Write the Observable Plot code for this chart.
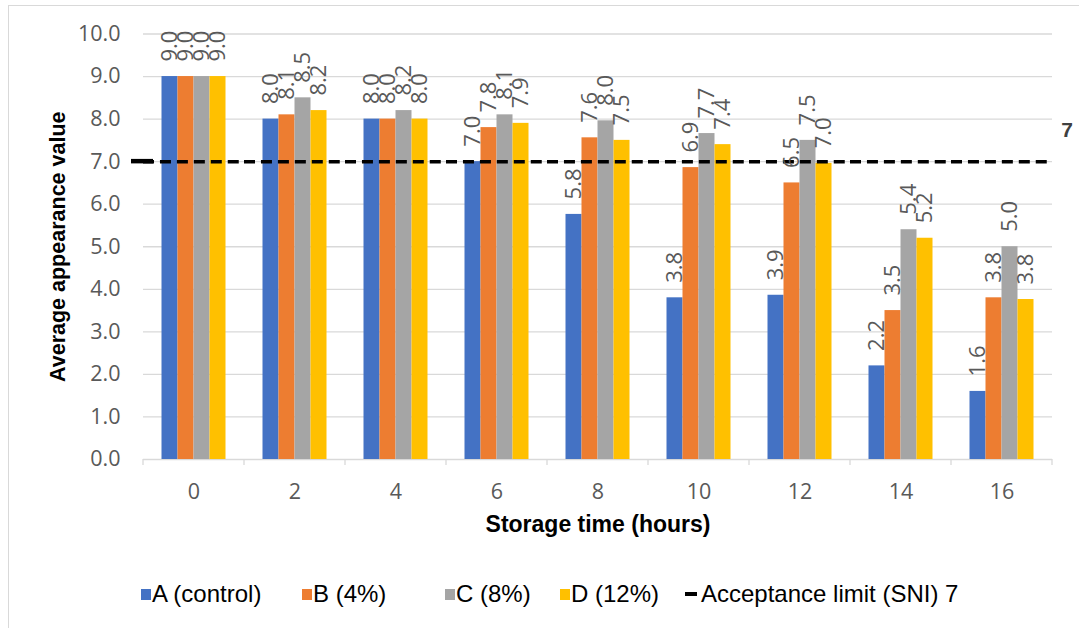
<!DOCTYPE html>
<html>
<head>
<meta charset="utf-8">
<script src="https://cdn.jsdelivr.net/npm/d3@7"></script>
<script src="https://cdn.jsdelivr.net/npm/@observablehq/plot@0.6"></script>
<style>
  html, body { margin: 0; padding: 0; background: #fff; }
  #wrap { position: relative; width: 1079px; height: 628px; overflow: hidden; }
  #border { position: absolute; left: 8px; top: 5px; width: 1200px; height: 800px; border: 1px solid #d9d9d9; box-sizing: border-box; }
  #chart { position: absolute; left: 0; top: 0; }
  #legend { position: absolute; left: 0; top: 560px; width: 1079px; height: 68px; font-family: "Liberation Sans", Arial, sans-serif; font-size: 24px; color: #000; }
  .item { position: absolute; top: 20px; height: 28px; line-height: 28px; white-space: nowrap; }
  .sw { position: absolute; top: 9px; left: 0; width: 10px; height: 11px; }
  .ln { position: absolute; top: 12px; left: 0; width: 12px; height: 4px; background: #000; }
  .lab { position: absolute; left: 11px; top: 0; }
</style>
</head>
<body>
<div id="wrap">
  <div id="border"></div>
  <div id="chart"></div>
  <div id="legend"></div>
</div>
<script>
// ---- data ----
const times = [0, 2, 4, 6, 8, 10, 12, 14, 16];
const seriesNames = ["A (control)", "B (4%)", "C (8%)", "D (12%)"];
const seriesColors = ["#4472C4", "#ED7D31", "#A5A5A5", "#FFC000"];
const valuesA = [9.0, 8.0, 8.0, 7.0, 5.76, 3.8, 3.86, 2.2, 1.6];
const valuesB = [9.0, 8.1, 8.0, 7.8, 7.56, 6.86, 6.5, 3.5, 3.8];
const valuesC = [9.0, 8.5, 8.2, 8.1, 7.96, 7.66, 7.5, 5.4, 5.0];
const valuesD = [9.0, 8.2, 8.0, 7.9, 7.5, 7.4, 6.96, 5.2, 3.76];
const limitValue = 7;
const limitName = "Acceptance limit (SNI) 7";
const yTicks = [0, 1, 2, 3, 4, 5, 6, 7, 8, 9, 10];
const xTitle = "Storage time (hours)";
const yTitle = "Average appearance value";

const allValues = [valuesA, valuesB, valuesC, valuesD];
const rows = [];
times.forEach((t, i) => {
  seriesNames.forEach((s, j) => rows.push({time: t, series: s, value: allValues[j][i]}));
});

const width = 1079, height = 560;
const boldFont = "'Liberation Sans', Arial, sans-serif";

const plot = Plot.plot({
  width, height,
  marginTop: 33.5, marginBottom: 101, marginLeft: 139.5, marginRight: 24.3,
  style: {fontFamily: "'Open Sans', sans-serif", fontSize: "21.5px", color: "#595959", background: "transparent", overflow: "visible"},
  fx: {domain: times, padding: 0, label: null, axis: "bottom", tickSize: 0, tickPadding: 24},
  x: {domain: seriesNames, paddingInner: 0, paddingOuter: 1.1, axis: null},
  y: {domain: [0, 10], ticks: yTicks, tickSize: 0, tickPadding: 23, tickFormat: d => d.toFixed(1), label: null},
  color: {domain: seriesNames, range: seriesColors},
  marks: [
    Plot.ruleY(yTicks.slice(1), {stroke: "#d9d9d9", strokeWidth: 1.3}),
    Plot.ruleY([0], {stroke: "#d9d9d9", strokeWidth: 1.3}),
    Plot.barY(rows, {fx: "time", x: "series", y: "value", fill: "series"}),
    Plot.ruleY([limitValue], {stroke: "#000", strokeWidth: 3.5, strokeDasharray: "11,5.95"}),
    Plot.text(rows, {fx: "time", x: "series", y: "value", text: d => d.value.toFixed(1),
      rotate: -90, textAnchor: "start", dy: -15, fill: "#595959", fontSize: 22}),
    Plot.text([{time: times[times.length - 1], v: limitValue}], {fx: "time", y: "v", frameAnchor: "right",
      text: d => String(d.v), textAnchor: "middle", dx: 14.5, dy: -31.5,
      fontFamily: boldFont, fontWeight: "bold", fontSize: 21, fill: "#404040"}),
    Plot.text([{time: times[4]}], {fx: "time", frameAnchor: "bottom", text: () => xTitle, dy: 72,
      textAnchor: "middle", fontFamily: boldFont, fontWeight: "bold", fontSize: 23, fill: "#000"}),
    Plot.text([{time: times[0]}], {fx: "time", frameAnchor: "left", text: () => yTitle, dx: -85, rotate: -90,
      textAnchor: "middle", fontFamily: boldFont, fontWeight: "bold", fontSize: 21.5, fill: "#000"})
  ]
});
document.getElementById("chart").appendChild(plot);

// category boundary tick marks on the x axis, from the library's scales
try {
  const fx = plot.scale("fx");
  const y = plot.scale("y");
  const y0 = y.apply(0);
  const bounds = fx.domain.map(v => fx.apply(v));
  bounds.push(fx.apply(fx.domain[fx.domain.length - 1]) + fx.bandwidth);
  const svg = d3.select(plot.tagName.toLowerCase() === "svg" ? plot : plot.querySelector("svg"));
  svg.append("g").selectAll("line").data(bounds).join("line")
    .attr("x1", d => d).attr("x2", d => d)
    .attr("y1", y0).attr("y2", y0 + 6)
    .attr("stroke", "#d9d9d9").attr("stroke-width", 1.3);
  // left lead-in of the limit line
  const yl = y.apply(limitValue);
  svg.append("line").attr("x1", bounds[0] - 12).attr("x2", bounds[0] + 10)
    .attr("y1", yl).attr("y2", yl).attr("stroke", "#000").attr("stroke-width", 4.5);
} catch (e) { console.error(e); }

// legend
const legend = document.getElementById("legend");
const lefts = [141, 302, 445, 560];
seriesNames.forEach((s, i) => {
  const it = document.createElement("div");
  it.className = "item"; it.style.left = lefts[i] + "px";
  it.innerHTML = `<span class="sw" style="background:${seriesColors[i]}"></span><span class="lab">${s}</span>`;
  legend.appendChild(it);
});
const li = document.createElement("div");
li.className = "item"; li.style.left = "685px";
li.innerHTML = `<span class="ln"></span><span class="lab" style="left:16px">${limitName}</span>`;
legend.appendChild(li);
</script>
</body>
</html>
